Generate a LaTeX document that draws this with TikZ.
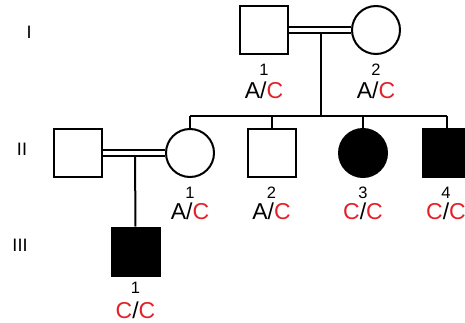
\documentclass[tikz,border=0pt]{standalone}
\usepackage{fontspec}
\setmainfont{Liberation Sans}
\definecolor{gred}{RGB}{228,32,40}
\begin{document}
\begin{tikzpicture}[x=1pt,y=-1pt,
  ln/.style={line width=2pt},
  sq/.style={draw,line width=2pt,rectangle,minimum size=48pt,inner sep=0pt},
  ci/.style={draw,line width=2pt,circle,minimum size=48pt,inner sep=0pt},
  aff/.style={fill=black},
  num/.style={font=\fontsize{16.5}{16.5}\selectfont,inner sep=0pt},
  geno/.style={font=\fontsize{23}{23}\selectfont,inner sep=0pt},
  gen/.style={font=\fontsize{18}{18}\selectfont,inner sep=0pt}]
\useasboundingbox (0,0) rectangle (465,323);
\clip (0,0) rectangle (465,323);
% generation labels
\node[gen] (gI) at (29,32) {I};
\node[gen] (gII) at (22,149) {II};
\node[gen] (gIII) at (20,245) {III};
% generation I
\node[sq] (I1) at (264,30) {};
\node[ci] (I2) at (376,30) {};
\draw[ln] ([yshift=3.2pt]I1.east) -- ([yshift=3.2pt]I2.west);
\draw[ln] ([yshift=-3.2pt]I1.east) -- ([yshift=-3.2pt]I2.west);
\coordinate (m1) at (321,33);
\coordinate (s1) at (321,116);
\draw[ln] (m1) -- (s1);
\node[num] (I1n) at (264,70) {1};
\node[geno] (I1g) at (264,90) {A/\textcolor{gred}{C}};
\node[num] (I2n) at (376,70) {2};
\node[geno] (I2g) at (376,90) {A/\textcolor{gred}{C}};
% generation II
\node[sq] (IIs) at (78,153) {};
\node[ci] (II1) at (190,153) {};
\node[sq] (II2) at (271.5,153) {};
\node[ci,aff] (II3) at (363,153) {};
\node[sq,aff] (II4) at (447,153) {};
\coordinate (sL) at (190,116);
\coordinate (sR) at (447,116);
\draw[ln] (sL) -- (sR);
\draw[ln] (sL) -- (II1.north);
\draw[ln] (271.5,116) -- (II2.north);
\draw[ln] (363,116) -- (II3.north);
\draw[ln] (sR) -- (II4.north);
\draw[ln] ([yshift=3.2pt]IIs.east) -- ([yshift=3.2pt]II1.west);
\draw[ln] ([yshift=-3.2pt]IIs.east) -- ([yshift=-3.2pt]II1.west);
\node[num] (II1n) at (190,193) {1};
\node[geno] (II1g) at (190,211) {A/\textcolor{gred}{C}};
\node[num] (II2n) at (271.5,193) {2};
\node[geno] (II2g) at (271.5,211) {A/\textcolor{gred}{C}};
\node[num] (II3n) at (363,193) {3};
\node[geno] (II3g) at (363,211) {\textcolor{gred}{C}/\textcolor{gred}{C}};
\node[num] (II4n) at (446,193) {4};
\node[geno] (II4g) at (446,211) {\textcolor{gred}{C}/\textcolor{gred}{C}};
% generation III
\coordinate (m2) at (135,156);
\node[sq,aff] (III1) at (135.5,251.5) {};
\draw[ln] (m2) -- (III1.north);
\node[num] (III1n) at (135.5,288) {1};
\node[geno] (III1g) at (135.5,310) {\textcolor{gred}{C}/\textcolor{gred}{C}};
\end{tikzpicture}
\end{document}
